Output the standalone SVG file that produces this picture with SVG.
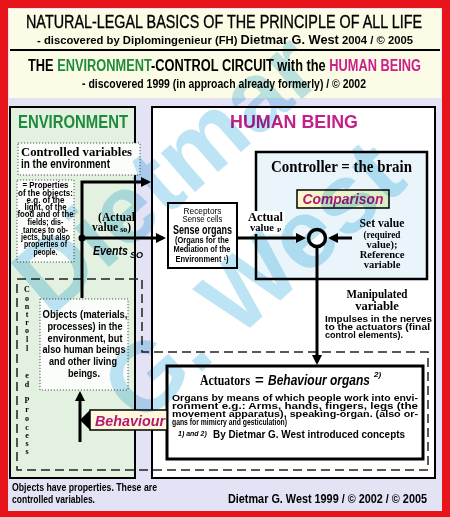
<svg xmlns="http://www.w3.org/2000/svg" width="450" height="517" viewBox="0 0 450 517">
<style>
.s{font-family:"Liberation Sans",Arial,sans-serif;font-weight:bold}
.n{font-family:"Liberation Sans",Arial,sans-serif}
.r{font-family:"Liberation Serif","Times New Roman",serif;font-weight:bold}
.i{font-style:italic}
.c{text-anchor:middle}
.ln{stroke:#000;stroke-width:3;fill:none}
.dot{fill:#fbfdfb;stroke:#555;stroke-width:1;stroke-dasharray:1.2 1.8}
.mag{fill:#b31a76}
</style>
<defs>
<marker id="ah" viewBox="0 0 10 10" refX="7" refY="5" markerWidth="10" markerHeight="10" markerUnits="userSpaceOnUse" orient="auto">
<path d="M0,0 L10,5 L0,10 z" fill="#000"/>
</marker>
<linearGradient id="cmpg" x1="0" y1="0" x2="1" y2="0">
<stop offset="0" stop-color="#fff6c8"/>
<stop offset="1" stop-color="#d6efc8"/>
</linearGradient>
</defs>

<rect x="0" y="0" width="450" height="517" fill="#e8141c"/>
<rect x="8" y="8" width="434" height="503" fill="#e4e2f5"/>

<g id="header">
<rect x="9" y="9" width="432" height="89" fill="#fcfce6"/>
<line x1="10" y1="50" x2="440" y2="50" stroke="#000" stroke-width="2"/>
<text class="n c" x="224" y="28" font-size="18" stroke="#000" stroke-width="0.35" textLength="396" lengthAdjust="spacingAndGlyphs">NATURAL-LEGAL BASICS OF THE PRINCIPLE OF ALL LIFE</text>
<text class="s" x="37" y="44" font-size="11.5" textLength="376" lengthAdjust="spacingAndGlyphs">- discovered by Diplomingenieur (FH) <tspan font-size="13">Dietmar G. West</tspan>  2004 / © 2005</text>
<text class="s c" x="224.5" y="71" font-size="16" textLength="393" lengthAdjust="spacingAndGlyphs">THE <tspan fill="#1e8c3a">ENVIRONMENT</tspan>-CONTROL CIRCUIT with the <tspan fill="#c8208c">HUMAN BEING</tspan></text>
<text class="s c" x="224" y="88" font-size="12.5" textLength="284" lengthAdjust="spacingAndGlyphs">- discovered 1999 (in approach already formerly) / © 2002</text>
</g>

<g id="environment">
<rect x="10" y="107" width="125" height="371" fill="#e3f1e1" stroke="#000" stroke-width="2"/>
<text class="s" x="18" y="128" font-size="18" fill="#1f8a3c" textLength="110" lengthAdjust="spacingAndGlyphs">ENVIRONMENT</text>
</g>

<g id="human-being">
<rect x="152" y="107" width="283" height="371" fill="#fff" stroke="#000" stroke-width="2"/>
<text class="s c" x="294" y="128" font-size="18" fill="#c4208a" textLength="128" lengthAdjust="spacingAndGlyphs">HUMAN BEING</text>
</g>

<g id="controlled-process">
<path d="M17,279 H142 V352 H428 V470 H17 Z" fill="none" stroke="#222" stroke-width="1.5" stroke-dasharray="9 5"/>
<text class="r c" font-size="8" x="27 27 27 27 27 27 27 27 27 27 27 27 27 27 27 27 27 27" y="292 301 309 317 325 333 342 351 378 387 395 403 412 421 430 438 446 454">Controlled Process</text>
</g>

<g id="controlled-variables">
<rect class="dot" x="18" y="143" width="122" height="32"/>
<text class="r" x="21" y="156" font-size="13" textLength="111" lengthAdjust="spacingAndGlyphs">Controlled variables</text>
<text class="s" x="21" y="168" font-size="12" textLength="89" lengthAdjust="spacingAndGlyphs">in the environment</text>
</g>

<g id="properties">
<rect class="dot" x="17" y="180" width="57" height="82"/>
<g class="s c" font-size="8.5">
<text x="45.5" y="188" textLength="46" lengthAdjust="spacingAndGlyphs">= Properties</text>
<text x="45.5" y="196" textLength="55" lengthAdjust="spacingAndGlyphs">of the objects:</text>
<text x="45.5" y="203" textLength="38" lengthAdjust="spacingAndGlyphs">e.g. of the</text>
<text x="45.5" y="210" textLength="42" lengthAdjust="spacingAndGlyphs">light, of the</text>
<text x="45.5" y="217" textLength="56" lengthAdjust="spacingAndGlyphs">food and of the</text>
<text x="45.5" y="225" textLength="36" lengthAdjust="spacingAndGlyphs">fields; dis-</text>
<text x="45.5" y="233" textLength="45" lengthAdjust="spacingAndGlyphs">tances to ob-</text>
<text x="45.5" y="240" textLength="49" lengthAdjust="spacingAndGlyphs">jects, but also</text>
<text x="45.5" y="247" textLength="43" lengthAdjust="spacingAndGlyphs">properties of</text>
<text x="45.5" y="255" textLength="24" lengthAdjust="spacingAndGlyphs">people.</text>
</g>
</g>

<g id="objects">
<rect class="dot" x="40" y="299" width="88" height="91"/>
<g class="s c" font-size="11">
<text x="85" y="318" textLength="85" lengthAdjust="spacingAndGlyphs">Objects (materials,</text>
<text x="85" y="330" textLength="75" lengthAdjust="spacingAndGlyphs">processes) in the</text>
<text x="85" y="342" textLength="75" lengthAdjust="spacingAndGlyphs">environment, but</text>
<text x="84" y="353" textLength="83" lengthAdjust="spacingAndGlyphs">also human beings</text>
<text x="83" y="365" textLength="68" lengthAdjust="spacingAndGlyphs">and other living</text>
<text x="84" y="377" textLength="32" lengthAdjust="spacingAndGlyphs">beings.</text>
</g>
</g>

<g id="actual-value-so">
<text class="r" x="98" y="221" font-size="12" textLength="37" lengthAdjust="spacingAndGlyphs">(Actual</text>
<text class="r" x="92" y="231" font-size="11.5">value<tspan font-size="8" dy="1"> so</tspan><tspan dy="-1">)</tspan></text>
<text class="s i" x="93" y="255" font-size="12.5" textLength="35" lengthAdjust="spacingAndGlyphs">Events</text>
<text class="s i" x="130" y="258" font-size="9">SO</text>
</g>

<g id="sense-organs">
<rect x="168" y="203" width="69" height="65" fill="#fff" stroke="#000" stroke-width="2"/>
<g class="c">
<text class="n" x="202.5" y="214" font-size="9" textLength="38" lengthAdjust="spacingAndGlyphs">Receptors</text>
<text class="n" x="202.5" y="222" font-size="9" textLength="40" lengthAdjust="spacingAndGlyphs">Sense cells</text>
<text class="s" x="202.5" y="234" font-size="12" textLength="59" lengthAdjust="spacingAndGlyphs">Sense organs</text>
<text class="s" x="202" y="243" font-size="8.5" textLength="54" lengthAdjust="spacingAndGlyphs">(Organs for the</text>
<text class="s" x="202" y="252" font-size="8.5" textLength="57" lengthAdjust="spacingAndGlyphs">Mediation of the</text>
<text class="s" x="202" y="262" font-size="8.5" textLength="53" lengthAdjust="spacingAndGlyphs">Environment ¹)</text>
</g>
</g>

<g id="controller">
<rect x="256" y="152" width="171" height="127" fill="#eaf5fb" stroke="#000" stroke-width="2.5"/>
<text class="r" x="271" y="172" font-size="16" textLength="141" lengthAdjust="spacingAndGlyphs">Controller = the brain</text>
<rect x="245" y="211" width="40" height="23" fill="#fff"/>
<text class="r" x="248" y="221" font-size="12.5" textLength="35" lengthAdjust="spacingAndGlyphs">Actual</text>
<text class="r" x="250" y="231" font-size="10.5">value<tspan font-size="7" dx="3" dy="1">P</tspan></text>
<g class="r c">
<text x="382" y="227" font-size="12.5" textLength="45" lengthAdjust="spacingAndGlyphs">Set value</text>
<text x="382" y="238" font-size="10.5" textLength="37" lengthAdjust="spacingAndGlyphs">(required</text>
<text x="382" y="248" font-size="10.5">value);</text>
<text x="382" y="258" font-size="10.5">Reference</text>
<text x="382" y="268" font-size="10.5">variable</text>
</g>
</g>

<g id="comparison">
<rect x="297" y="190" width="92" height="18" fill="url(#cmpg)" stroke="#000" stroke-width="1.5"/>
<text class="s i c mag" x="343" y="204" font-size="14" textLength="81" lengthAdjust="spacingAndGlyphs">Comparison</text>
</g>

<g id="comparator">
<circle cx="317" cy="238" r="8.5" fill="#fff" stroke="#000" stroke-width="3.5"/>
</g>

<g id="manipulated-variable">
<g class="r c">
<text x="377" y="298" font-size="12.5" textLength="61" lengthAdjust="spacingAndGlyphs">Manipulated</text>
<text x="377" y="310" font-size="12.5">variable</text>
</g>
<g class="s" font-size="9.5">
<text x="325" y="322" textLength="107" lengthAdjust="spacingAndGlyphs">Impulses in the nerves</text>
<text x="325" y="330" textLength="105" lengthAdjust="spacingAndGlyphs">to the actuators (final</text>
<text x="325" y="338" textLength="78" lengthAdjust="spacingAndGlyphs">control elements).</text>
</g>
</g>

<g id="actuators">
<rect x="167" y="366" width="256" height="93" fill="#fff" stroke="#000" stroke-width="3"/>
<text class="r" x="200" y="385" font-size="14" textLength="50" lengthAdjust="spacingAndGlyphs">Actuators</text>
<text class="s" x="255" y="385" font-size="15">=</text>
<text class="s i" x="268" y="385" font-size="15" textLength="102" lengthAdjust="spacingAndGlyphs">Behaviour organs</text>
<text class="s i" x="374" y="377" font-size="8">2)</text>
<g class="s" font-size="9.3">
<text x="172" y="401" textLength="246" lengthAdjust="spacingAndGlyphs">Organs by means of which people work into envi-</text>
<text x="172" y="409" textLength="246" lengthAdjust="spacingAndGlyphs">ronment  e.g.:  Arms,  hands,  fingers,  legs  (the</text>
<text x="172" y="417" textLength="246" lengthAdjust="spacingAndGlyphs">movement  apparatus),  speaking-organ.  (also  or-</text>
<text x="172" y="425" textLength="115" lengthAdjust="spacingAndGlyphs">gans for mimicry and gesticulation)</text>
</g>
<text class="s i" x="178" y="436" font-size="7">1) and 2)</text>
<text class="s" x="213" y="438" font-size="11" textLength="192" lengthAdjust="spacingAndGlyphs">By Dietmar G. West introduced concepts</text>
</g>

<g id="behaviour">
<path d="M80,420 L90,410 V430 Z" fill="#000"/>
<rect x="90" y="410" width="77" height="20" fill="#fff8dc" stroke="#000" stroke-width="1.5"/>
<text class="s i mag" x="95" y="425.5" font-size="15" textLength="70" lengthAdjust="spacingAndGlyphs">Behaviour</text>
</g>

<g id="connectors">
<path class="ln" d="M82,298 V182 H148" marker-end="url(#ah)"/>
<circle cx="82" cy="238" r="3.5" fill="#000"/>
<path class="ln" d="M82,238 H163" marker-end="url(#ah)"/>
<path class="ln" d="M237,238 H303" marker-end="url(#ah)"/>
<path class="ln" d="M352,238 H331" marker-end="url(#ah)"/>
<path class="ln" d="M317,247 V362" marker-end="url(#ah)"/>
<path class="ln" d="M80,442 V394" marker-end="url(#ah)"/>
</g>

<g id="footer" class="s">
<text x="12" y="491" font-size="10" textLength="145" lengthAdjust="spacingAndGlyphs">Objects have properties. These are</text>
<text x="12" y="503" font-size="10" textLength="83" lengthAdjust="spacingAndGlyphs">controlled variables.</text>
<text x="228" y="503" font-size="12.5" textLength="199" lengthAdjust="spacingAndGlyphs">Dietmar G. West  1999 / © 2002 / © 2005</text>
</g>

<g id="watermark" style="mix-blend-mode:multiply" fill="#bde4f4" font-family="'Liberation Sans',Arial,sans-serif" font-weight="bold" font-size="98">
<text transform="translate(50,318) rotate(-41)">Dietmar</text>
<text transform="translate(140,427) rotate(-42)">G. West</text>
</g>
</svg>
